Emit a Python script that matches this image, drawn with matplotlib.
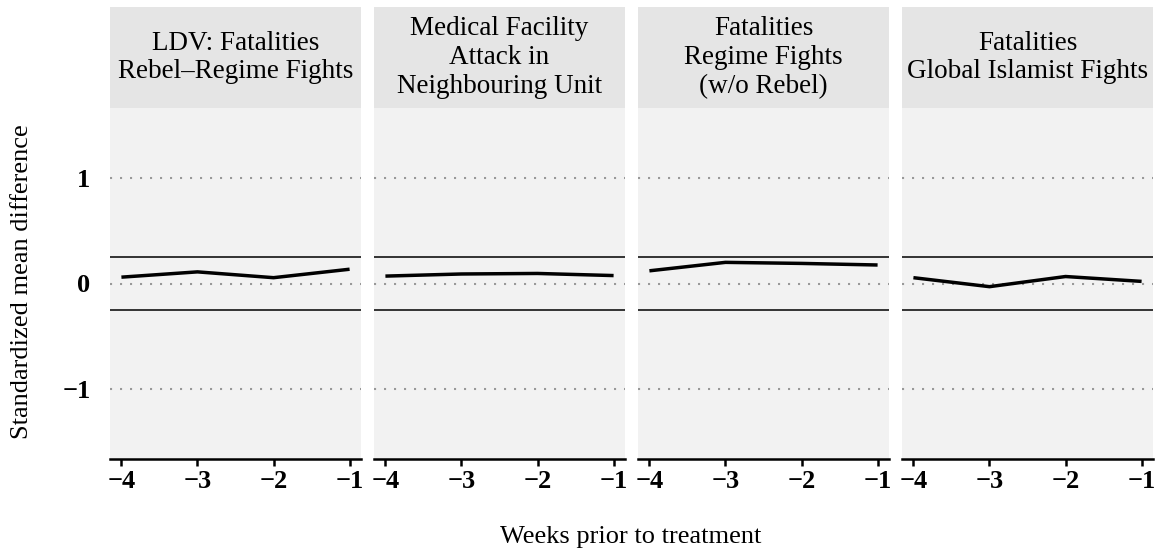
import numpy as np
import matplotlib.pyplot as plt

plt.rcParams['font.family'] = ['Liberation Serif', 'DejaVu Serif']

# --- data ---
weeks = [-4, -3, -2, -1]
titles = ["LDV: Fatalities\nRebel\u2013Regime Fights",
          "Medical Facility\nAttack in\nNeighbouring Unit",
          "Fatalities\nRegime Fights\n(w/o Rebel)",
          "Fatalities\nGlobal Islamist Fights"]
smd_ldv = [0.06, 0.11, 0.055, 0.135]
smd_medical = [0.07, 0.09, 0.095, 0.075]
smd_regime = [0.12, 0.20, 0.19, 0.175]
smd_islamist = [0.055, -0.03, 0.066, 0.02]
series = [smd_ldv, smd_medical, smd_regime, smd_islamist]
yticks = [-1, 0, 1]
ytick_labels = ["\u22121", "0", "1"]
xtick_labels = ["\u22124", "\u22123", "\u22122", "\u22121"]
threshold = 0.25

W, H = 1158, 554
fig = plt.figure(figsize=(W / 100, H / 100), dpi=100)

panel_left = [110, 374, 638, 902]
panel_w = 251
panel_top = 108
panel_bot = 459
strip_top = 7

for i, (x0, vals, title) in enumerate(zip(panel_left, series, titles)):
    ax = fig.add_axes([x0 / W, 1 - panel_bot / H, panel_w / W, (panel_bot - panel_top) / H])
    ax.set_facecolor('#F2F2F2')
    for yv in yticks:
        ax.axhline(yv, color='#999999', lw=1.5, ls=(0, (1, 3.8)), zorder=1)
    ax.axhline(threshold, color='black', lw=1.1, zorder=2)
    ax.axhline(-threshold, color='black', lw=1.1, zorder=2)
    ax.plot(weeks, vals, color='black', lw=2.5, solid_capstyle='butt', zorder=3)
    ax.set_xlim(-4.15, -0.85)
    ax.set_ylim(-1.66, 1.66)
    for s in ['top', 'right', 'left']:
        ax.spines[s].set_visible(False)
    ax.spines['bottom'].set_linewidth(1.8)
    ax.set_xticks(weeks)
    ax.set_xticklabels(xtick_labels, fontsize=19, fontweight='bold')
    ax.tick_params(axis='x', length=5, width=1.8, pad=3)
    ax.set_yticks(yticks)
    if i == 0:
        ax.set_yticklabels(ytick_labels, fontsize=19, fontweight='bold')
        ax.tick_params(axis='y', length=0, pad=14)
    else:
        ax.set_yticklabels([])
        ax.tick_params(axis='y', length=0)

    # strip header
    sax = fig.add_axes([x0 / W, 1 - panel_top / H, panel_w / W, (panel_top - strip_top) / H])
    sax.set_facecolor('#E5E5E5')
    sax.set_xticks([])
    sax.set_yticks([])
    for s in sax.spines.values():
        s.set_visible(False)
    sax.text(0.5, 0.5, title, ha='center', va='center', fontsize=19.5,
             linespacing=1.2, transform=sax.transAxes)

fig.text(22 / W, 1 - 282 / H, "Standardized mean difference", rotation=90,
         ha='center', va='center', fontsize=19)
fig.text(631 / W, 1 - 537 / H, "Weeks prior to treatment",
         ha='center', va='center', fontsize=19)

fig.savefig('out.png', dpi=100)
